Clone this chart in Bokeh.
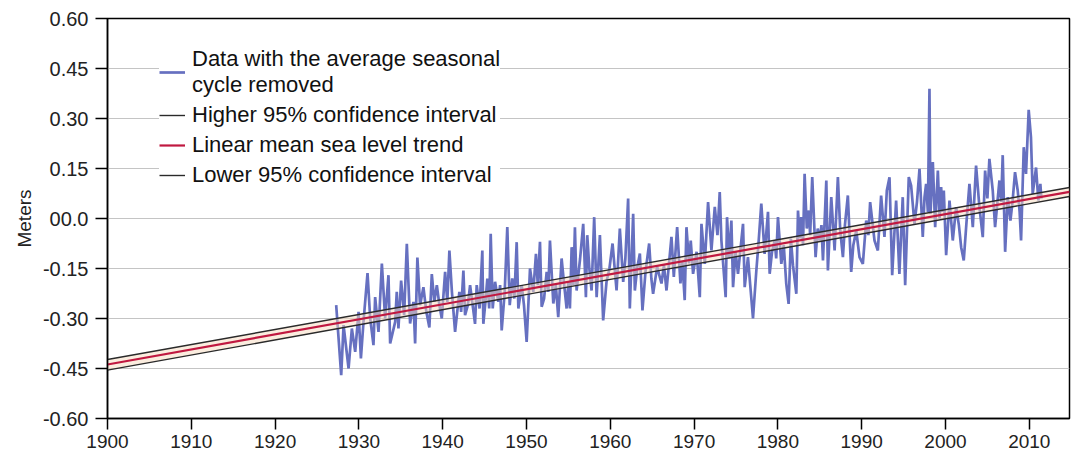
from bokeh.plotting import figure
from bokeh.models import FixedTicker, Legend, LegendItem
from bokeh.embed import file_html
from bokeh.resources import INLINE

# ---- data ----
data_years = [
    1927.29, 1927.89, 1928.17, 1928.77, 1929.16, 1929.56, 1929.96, 1930.24, 1930.55, 1931.03,
    1931.35, 1931.74, 1931.94, 1932.34, 1932.74, 1933.13, 1933.53, 1933.73, 1934.33, 1934.52,
    1934.72, 1935.04, 1935.40, 1935.72, 1936.11, 1936.51, 1936.71, 1936.98, 1937.30, 1937.70,
    1938.05, 1938.41, 1938.70, 1939.00, 1939.30, 1939.61, 1939.89, 1940.29, 1940.55, 1940.80,
    1941.10, 1941.48, 1941.99, 1942.20, 1942.47, 1942.67, 1943.00, 1943.27, 1943.86, 1944.06,
    1944.40, 1944.73, 1944.85, 1945.10, 1945.33, 1945.55, 1945.73, 1945.97, 1946.25, 1946.64,
    1946.85, 1947.04, 1947.40, 1947.71, 1948.00, 1948.30, 1948.55, 1948.83, 1949.03, 1949.43,
    1949.70, 1950.02, 1950.42, 1950.81, 1951.13, 1951.35, 1951.61, 1951.81, 1952.10, 1952.41,
    1952.60, 1952.80, 1953.20, 1953.50, 1953.79, 1954.19, 1954.50, 1954.79, 1955.00, 1955.18,
    1955.39, 1955.60, 1955.78, 1955.98, 1956.40, 1956.77, 1957.09, 1957.25, 1957.50, 1957.77,
    1958.08, 1958.37, 1958.76, 1959.15, 1959.55, 1959.90, 1960.27, 1960.75, 1961.14, 1961.54,
    1961.80, 1962.13, 1962.33, 1962.73, 1962.93, 1963.20, 1963.53, 1963.84, 1964.20, 1964.64,
    1964.90, 1965.11, 1965.59, 1966.11, 1966.40, 1966.71, 1967.30, 1967.58, 1967.98, 1968.37,
    1968.60, 1968.88, 1969.09, 1969.40, 1969.60, 1969.88, 1970.30, 1970.68, 1970.88, 1971.28,
    1971.67, 1972.07, 1972.47, 1972.79, 1973.06, 1973.26, 1973.77, 1973.93, 1974.20, 1974.45,
    1974.65, 1974.95, 1975.24, 1975.84, 1976.04, 1976.43, 1976.70, 1977.03, 1977.43, 1977.70,
    1978.02, 1978.42, 1978.82, 1979.02, 1979.30, 1979.62, 1979.80, 1980.01, 1980.41, 1980.70,
    1981.00, 1981.28, 1981.55, 1981.80, 1982.20, 1982.40, 1982.60, 1982.79, 1983.00, 1983.19,
    1983.45, 1983.70, 1983.85, 1984.10, 1984.50, 1984.75, 1984.98, 1985.20, 1985.38, 1985.78,
    1985.97, 1986.37, 1986.77, 1987.16, 1987.44, 1987.76, 1988.00, 1988.35, 1988.75, 1989.00,
    1989.35, 1989.74, 1990.14, 1990.54, 1990.80, 1991.01, 1991.53, 1991.93, 1992.32, 1992.72,
    1993.00, 1993.32, 1993.64, 1994.11, 1994.50, 1994.90, 1995.19, 1995.62, 1995.90, 1996.30,
    1996.60, 1996.90, 1997.29, 1997.50, 1997.69, 1997.90, 1998.09, 1998.21, 1998.49, 1998.77,
    1999.09, 1999.30, 1999.48, 1999.65, 1999.80, 2000.08, 2000.48, 2000.87, 2001.27, 2001.60,
    2001.87, 2002.18, 2002.58, 2002.86, 2003.26, 2003.65, 2004.05, 2004.45, 2004.73, 2005.00,
    2005.24, 2005.64, 2005.92, 2006.44, 2006.65, 2006.83, 2007.12, 2007.43, 2007.75, 2008.00,
    2008.30, 2008.62, 2008.85, 2009.02, 2009.34, 2009.61, 2009.93, 2010.20, 2010.41, 2010.81,
    2011.08, 2011.32, 2011.45,
]
data_values = [
    -0.260, -0.470, -0.320, -0.450, -0.330, -0.400, -0.280, -0.420, -0.310, -0.164,
    -0.300, -0.380, -0.236, -0.340, -0.135, -0.300, -0.170, -0.375, -0.310, -0.220,
    -0.330, -0.186, -0.290, -0.076, -0.315, -0.250, -0.375, -0.117, -0.260, -0.206,
    -0.280, -0.327, -0.167, -0.250, -0.200, -0.260, -0.300, -0.160, -0.250, -0.096,
    -0.220, -0.340, -0.220, -0.280, -0.156, -0.290, -0.260, -0.200, -0.316, -0.200,
    -0.270, -0.096, -0.316, -0.250, -0.180, -0.270, -0.046, -0.270, -0.190, -0.250,
    -0.200, -0.336, -0.220, -0.026, -0.260, -0.180, -0.240, -0.071, -0.270, -0.200,
    -0.260, -0.370, -0.150, -0.220, -0.106, -0.200, -0.070, -0.265, -0.240, -0.160,
    -0.220, -0.066, -0.255, -0.200, -0.296, -0.120, -0.200, -0.270, -0.190, -0.270,
    -0.086, -0.200, -0.026, -0.216, -0.120, -0.016, -0.236, -0.050, -0.150, -0.216,
    0.004, -0.236, -0.050, -0.306, -0.190, -0.150, -0.075, -0.216, -0.030, -0.190,
    -0.120, 0.060, -0.270, 0.014, -0.216, -0.150, -0.105, -0.276, -0.160, -0.075,
    -0.180, -0.226, -0.145, -0.195, -0.140, -0.216, -0.055, -0.175, -0.026, -0.195,
    -0.130, -0.245, -0.026, -0.135, -0.066, -0.166, -0.100, -0.236, -0.016, -0.136,
    0.049, -0.096, 0.035, -0.050, 0.079, -0.066, -0.236, 0.004, -0.120, -0.006,
    -0.206, -0.100, -0.166, -0.016, -0.206, -0.116, -0.200, -0.300, -0.156, -0.070,
    0.045, -0.106, 0.020, -0.166, -0.100, -0.066, -0.120, 0.004, -0.136, -0.080,
    -0.196, -0.256, -0.060, -0.140, -0.226, 0.024, -0.060, 0.004, -0.080, 0.134,
    -0.030, 0.024, -0.050, 0.124, -0.116, -0.030, -0.066, -0.020, -0.126, 0.114,
    -0.156, 0.064, -0.096, 0.124, -0.036, -0.116, -0.020, 0.069, -0.160, -0.080,
    -0.036, -0.116, -0.136, -0.006, -0.050, 0.049, -0.066, -0.096, 0.069, -0.055,
    0.084, 0.124, -0.170, 0.054, -0.166, 0.064, -0.200, 0.124, 0.099, -0.016,
    0.050, 0.149, -0.055, 0.064, 0.104, 0.020, 0.389, 0.014, 0.169, -0.026,
    0.144, 0.000, 0.094, 0.020, 0.084, -0.110, 0.054, -0.066, 0.034, -0.020,
    -0.086, -0.126, 0.014, 0.104, -0.026, 0.159, 0.034, -0.056, 0.144, 0.060,
    0.179, 0.084, -0.026, 0.114, 0.050, 0.190, -0.100, 0.064, -0.006, 0.050,
    0.139, 0.084, 0.020, -0.066, 0.214, 0.134, 0.326, 0.244, 0.074, 0.153,
    0.054, 0.104, 0.060,
]

trend_years = [1900.0, 2014.8]
trend_values = [-0.438, 0.080]
upper_ci_values = [-0.423, 0.093]
lower_ci_values = [-0.455, 0.066]

y_ticks = [-0.60, -0.45, -0.30, -0.15, 0.0, 0.15, 0.30, 0.45, 0.60]
y_tick_labels = ["-0.60", "-0.45", "-0.30", "-0.15", "00.0", "0.15", "0.30", "0.45", "0.60"]
x_ticks = [1900, 1910, 1920, 1930, 1940, 1950, 1960, 1970, 1980, 1990, 2000, 2010]

label_data = "Data with the average seasonal\ncycle removed"
label_high = "Higher 95% confidence interval"
label_trend = "Linear mean sea level trend"
label_low = "Lower 95% confidence interval"

FONT = "Liberation Sans"

p = figure(
    frame_width=962, frame_height=400,
    x_range=(1900, 2014.8), y_range=(-0.60, 0.60),
    output_backend="svg", toolbar_location=None,
    min_border_left=107, min_border_right=2, min_border_top=18, min_border_bottom=38,
    background_fill_color="white", border_fill_color="white",
)
p.outline_line_color = "black"
p.outline_line_width = 1.5

# data
r_data = p.line(data_years, data_values, line_color="#6670c0", line_width=2.7)

# confidence band + lines
p.varea(x=trend_years, y1=lower_ci_values, y2=upper_ci_values, fill_color="#f7dcc0", fill_alpha=0.5)
r_high = p.line(trend_years, upper_ci_values, line_color="#2a2a2a", line_width=1.4)
r_low = p.line(trend_years, lower_ci_values, line_color="#2a2a2a", line_width=1.4)
r_trend = p.line(trend_years, trend_values, line_color="#c01840", line_width=2.2)

# axes
yt = FixedTicker(ticks=y_ticks, minor_ticks=[])
xt = FixedTicker(ticks=x_ticks, minor_ticks=[])
p.yaxis.ticker = yt
p.xaxis.ticker = xt
p.yaxis.major_label_overrides = {t: l for t, l in zip(y_ticks, y_tick_labels)}
p.xaxis.major_label_overrides = {t: str(t) for t in x_ticks}

for ax in (p.xaxis[0], p.yaxis[0]):
    ax.axis_line_color = "black"
    ax.axis_line_width = 1.5
    ax.major_tick_line_color = "black"
    ax.major_tick_line_width = 1.5
    ax.major_tick_in = 0
    ax.minor_tick_line_color = None
    ax.major_label_text_font = FONT
    ax.major_label_text_color = "#222222"

p.yaxis.major_label_text_font_size = "20px"
p.xaxis.major_label_text_font_size = "19px"
p.yaxis.major_tick_out = 12
p.yaxis.major_label_standoff = 7
p.xaxis.major_tick_out = 11
p.xaxis.major_label_standoff = 5

p.yaxis.axis_label = "Meters"
p.yaxis.axis_label_text_font = FONT
p.yaxis.axis_label_text_font_size = "19px"
p.yaxis.axis_label_text_font_style = "normal"
p.yaxis.axis_label_text_color = "#222222"
p.yaxis.axis_label_standoff = 5

p.xgrid.visible = False
p.ygrid.ticker = yt
p.ygrid.grid_line_color = "#c4c4c4"
p.ygrid.grid_line_width = 1.2

legend = Legend(
    items=[
        LegendItem(label=label_data, renderers=[r_data]),
        LegendItem(label=label_high, renderers=[r_high]),
        LegendItem(label=label_trend, renderers=[r_trend]),
        LegendItem(label=label_low, renderers=[r_low]),
    ],
    location=(52, 230),
    background_fill_color="white",
    background_fill_alpha=1.0,
    border_line_color=None,
    label_text_font=FONT,
    label_text_font_size="22px",
    label_text_color="#111111",
    label_text_line_height=0.78,
    glyph_width=26,
    label_standoff=7,
    spacing=4,
    padding=10,
    margin=0,
)
p.add_layout(legend)

open("out.html", "w").write(file_html(p, INLINE))
